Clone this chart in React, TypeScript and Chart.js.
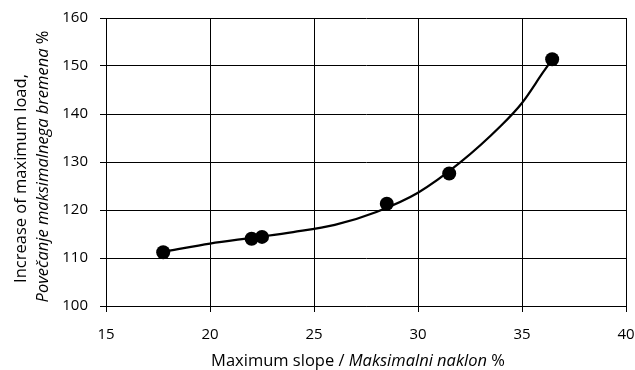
import React, { useEffect, useRef } from "react";
import { Chart, registerables } from "chart.js";

Chart.register(...registerables);

// Measured points
const slopeValues = [17.75, 22.0, 22.5, 28.5, 31.5, 36.45];
const loadValues = [111.2, 114.0, 114.4, 121.3, 127.6, 151.4];

// Trend curve
const trendSlope = [18.0, 20, 22, 24, 26, 28, 30, 32, 34, 35, 36, 36.45];
const trendLoad = [111.5, 113.0, 114.2, 115.4, 116.9, 119.6, 123.6, 129.8, 137.6, 142.3, 148.6, 151.4];

const xTicks = [15, 20, 25, 30, 35, 40];
const yTicks = [100, 110, 120, 130, 140, 150, 160];

const FONT = "'Open Sans', sans-serif";

type Seg = { text: string; italic?: boolean };

function drawSegments(ctx: CanvasRenderingContext2D, segs: Seg[], cx: number, y: number, size: number) {
  const widths = segs.map((s) => {
    ctx.font = `${s.italic ? "italic " : ""}${size}px ${FONT}`;
    return ctx.measureText(s.text).width;
  });
  const total = widths.reduce((a, b) => a + b, 0);
  let x = cx - total / 2;
  segs.forEach((s, i) => {
    ctx.font = `${s.italic ? "italic " : ""}${size}px ${FONT}`;
    ctx.fillText(s.text, x, y);
    x += widths[i];
  });
}

const titlePlugin = {
  id: "mixedTitles",
  afterDraw(chart: any) {
    const ctx = chart.ctx as CanvasRenderingContext2D;
    const area = chart.chartArea;
    ctx.save();
    ctx.fillStyle = "#000";
    ctx.textAlign = "left";
    ctx.textBaseline = "alphabetic";
    // x title
    drawSegments(
      ctx,
      [{ text: "Maximum slope / " }, { text: "Maksimalni naklon", italic: true }, { text: " %" }],
      358,
      366,
      16.5
    );
    // y title
    const cy = (area.top + area.bottom) / 2 + 1;
    ctx.translate(0, cy);
    ctx.rotate(-Math.PI / 2);
    drawSegments(ctx, [{ text: "Increase of maximum load," }], -15.5, 26, 16.5);
    drawSegments(ctx, [{ text: "Povečanje maksimalnega bremena", italic: true }, { text: " %" }], -3.5, 48, 16.5);
    ctx.restore();
  },
};

export default function App() {
  const ref = useRef<HTMLCanvasElement>(null);
  useEffect(() => {
    document.body.style.margin = "0";
    const canvas = ref.current!;
    const chart = new Chart(canvas, {
      type: "scatter",
      data: {
        datasets: [
          {
            data: slopeValues.map((x, i) => ({ x, y: loadValues[i] })),
            backgroundColor: "#000",
            borderColor: "#000",
            borderWidth: 0,
            pointRadius: 7,
            pointHoverRadius: 7,
            order: 0,
          },
          {
            data: trendSlope.map((x, i) => ({ x, y: trendLoad[i] })),
            showLine: true,
            borderColor: "#000",
            borderWidth: 2.2,
            pointRadius: 0,
            cubicInterpolationMode: "monotone",
            order: 1,
          } as any,
        ],
      },
      options: {
        animation: false,
        responsive: false,
        events: [],
        layout: { padding: { top: 18, right: 9, left: 0, bottom: 0 } },
        plugins: { legend: { display: false }, tooltip: { enabled: false }, title: { display: false } },
        scales: {
          x: {
            type: "linear",
            min: 15,
            max: 40,
            afterBuildTicks: (scale: any) => {
              scale.ticks = xTicks.map((v) => ({ value: v }));
            },
            afterFit: (scale: any) => {
              scale.height = 64;
              scale.paddingLeft = 0;
              scale.paddingRight = 0;
            },
            ticks: { color: "#000", font: { family: FONT, size: 15 }, padding: 14, maxRotation: 0 },
            grid: { color: "#000", lineWidth: 1, tickLength: 6, drawTicks: true },
            border: { color: "#000", width: 1 },
          },
          y: {
            type: "linear",
            min: 100,
            max: 160,
            afterBuildTicks: (scale: any) => {
              scale.ticks = yTicks.map((v) => ({ value: v }));
            },
            afterFit: (scale: any) => {
              scale.width = 106;
              scale.paddingTop = 0;
              scale.paddingBottom = 0;
            },
            ticks: { color: "#000", font: { family: FONT, size: 15 }, padding: 12 },
            grid: { color: "#000", lineWidth: 1, tickLength: 6, drawTicks: true },
            border: { color: "#000", width: 1 },
          },
        },
      },
      plugins: [titlePlugin],
    });
    return () => chart.destroy();
  }, []);
  return (
    <div style={{ width: 635, height: 370, background: "#fff" }}>
      <canvas ref={ref} width={635} height={370} style={{ display: "block" }} />
    </div>
  );
}
